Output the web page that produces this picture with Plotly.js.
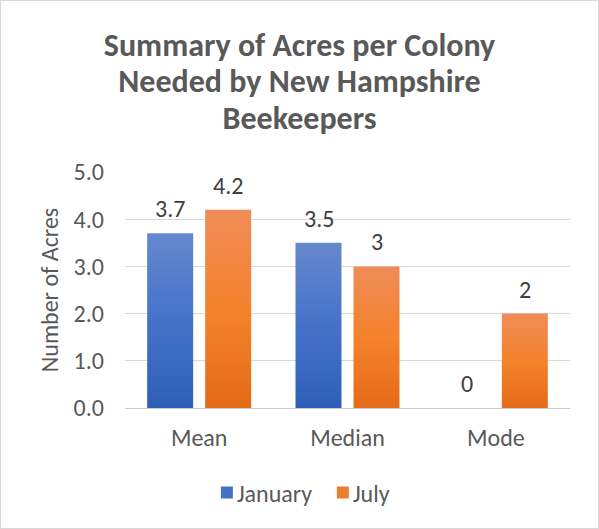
<!DOCTYPE html>
<html><head><meta charset="utf-8">
<script src="https://cdn.plot.ly/plotly-3.0.1.min.js"></script>
<style>
html,body{margin:0;padding:0;background:#fff;}
#chart{width:597px;height:527px;border:1px solid #d9d9d9;}
</style></head>
<body>
<svg width="0" height="0" style="position:absolute">
  <defs>
    <linearGradient id="gBlue" x1="0" y1="0" x2="0" y2="1">
      <stop offset="0" stop-color="#6588CE"/>
      <stop offset="0.5" stop-color="#4572C9"/>
      <stop offset="1" stop-color="#2E5FB8"/>
    </linearGradient>
    <linearGradient id="gOrange" x1="0" y1="0" x2="0" y2="1">
      <stop offset="0" stop-color="#EF8C58"/>
      <stop offset="0.5" stop-color="#F5822D"/>
      <stop offset="1" stop-color="#E46B17"/>
    </linearGradient>
  </defs>
</svg>
<div id="chart"></div>
<script>
const categories = ["Mean", "Median", "Mode"];
const january = [3.7, 3.5, 0];
const july = [4.2, 3, 2];
const seriesNames = ["January", "July"];
const yTickVals = [0, 1, 2, 3, 4, 5];
const yTickText = ["0.0", "1.0", "2.0", "3.0", "4.0", "5.0"];
const fontFam = "Carlito, Calibri, Lato, sans-serif";

const traces = [
  {type:'bar', name:seriesNames[0], x:categories, y:january,
   marker:{color:'#4472C4'}},
  {type:'bar', name:seriesNames[1], x:categories, y:july,
   marker:{color:'#ED7D31'}}
];

const annotations = [];
[january, july].forEach((vals, si) => {
  vals.forEach((v, i) => {
    annotations.push({x:categories[i], y:v, xref:'x', yref:'y', text:String(v),
      showarrow:false, xanchor:'center', yanchor:'bottom',
      xshift: si === 0 ? -29 : 29, yshift:8,
      font:{size:24, color:'#404040', family:fontFam}});
  });
});

const titleLines = ["Summary of Acres per Colony", "Needed by New Hampshire", "Beekeepers"];
const layout = {
  width:597, height:527,
  margin:{l:124, r:28, t:171, b:120},
  paper_bgcolor:'#fff', plot_bgcolor:'#fff',
  font:{family:fontFam, color:'#595959', size:24},
  title:{text:titleLines.map(t => '<span style="font-size:32px"><b>' + t + '</b></span>').join('<br>'),
    x:0.5, xanchor:'center', yref:'container', y:0.896, yanchor:'top',
    font:{size:28, color:'#595959', family:fontFam}},
  barmode:'group', bargap:0.218, bargroupgap:0.207,
  xaxis:{showgrid:false, showline:true, linecolor:'#c8c8c8', linewidth:1,
    ticks:'', ticklabelstandoff:8, tickfont:{size:24,color:'#595959'}},
  yaxis:{range:[0,5], tickvals:yTickVals, ticktext:yTickText, showgrid:true, gridcolor:'#d9d9d9',
    zeroline:false, showline:false, ticks:'', ticklabelstandoff:20,
    tickfont:{size:24,color:'#595959'},
    title:{text:'Number of Acres', font:{size:24,color:'#595959'}, standoff:8}},
  annotations: annotations,
  showlegend:true,
  legend:{orientation:'h', x:0.184, xanchor:'left', y:-0.36, yanchor:'middle',
    font:{size:24,color:'#595959'}, traceorder:'normal', itemwidth:30, entrywidth:71}
};
Plotly.newPlot('chart', traces, layout, {displayModeBar:false, staticPlot:true}).then(() => {
  const grads = ['url(#gBlue)', 'url(#gOrange)'];
  document.querySelectorAll('#chart .barlayer .trace').forEach((tr, i) => {
    tr.querySelectorAll('.point path').forEach(p => { p.style.fill = grads[i]; });
  });
  document.querySelectorAll('#chart .legend .legendtext').forEach(t => {
    t.setAttribute('x', '30');
    t.querySelectorAll('tspan').forEach(s => { if (s.hasAttribute('x')) s.setAttribute('x', '30'); });
  });
});
</script></body></html>
